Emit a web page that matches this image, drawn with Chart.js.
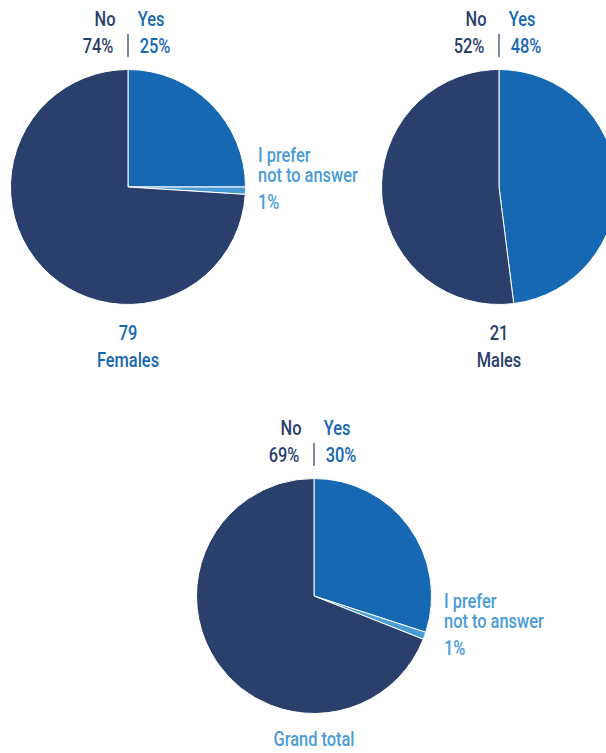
<!DOCTYPE html>
<html>
<head>
<meta charset="utf-8">
<script src="https://cdn.jsdelivr.net/npm/chart.js@4.4.0/dist/chart.umd.min.js"></script>
<style>
  html, body { margin: 0; padding: 0; background: #fff; }
  body { width: 606px; height: 753px; position: relative; overflow: hidden;
         font-family: "Roboto", sans-serif; font-weight: 500; font-size: 20px; }
  canvas { position: absolute; }
  .lbl { position: absolute; white-space: nowrap; line-height: 1;
         transform: scaleX(0.82); transform-origin: left center; }
  .c { transform: translateX(-50%) scaleX(0.82); transform-origin: center center; }
  .sep { position: absolute; width: 2px; height: 23px; background: #7d88a8; }
</style>
</head>
<body>
<script>
// survey answers per group, in percent
const groups = ['Females', 'Males', 'Grand total'];
const counts = ['79', '21', ''];
const yesPct = [25, 48, 30];
const preferPct = [1, 0, 1];
const noPct = [74, 52, 69];

const answerLabels = ['Yes', 'I prefer not to answer', 'No'];
const colors = { yes: '#1668b2', prefer: '#4a9cd7', no: '#2a3f6c' };

// pie centres, text colours and where the side note sits
const layout = [
  { cx: 128, cy: 187, titleColor: colors.yes, noteDy: -42 },
  { cx: 499, cy: 187, titleColor: colors.no, noteDy: -42 },
  { cx: 314, cy: 596, titleColor: colors.prefer, noteDy: -5 }
];
const SIZE = 236;

function addText(text, x, y, color, centered) {
  const el = document.createElement('div');
  el.className = 'lbl' + (centered ? ' c' : '');
  el.textContent = text;
  el.style.left = x + 'px';
  el.style.top = y + 'px';
  el.style.color = color;
  document.body.appendChild(el);
}

groups.forEach((name, i) => {
  const { cx, cy, titleColor, noteDy } = layout[i];
  const cv = document.createElement('canvas');
  cv.width = SIZE; cv.height = SIZE;
  cv.style.left = (cx - SIZE / 2) + 'px';
  cv.style.top = (cy - SIZE / 2) + 'px';
  document.body.appendChild(cv);

  new Chart(cv.getContext('2d'), {
    type: 'pie',
    data: {
      labels: answerLabels,
      datasets: [{
        data: [yesPct[i], preferPct[i], noPct[i]],
        backgroundColor: [colors.yes, colors.prefer, colors.no],
        borderColor: '#ffffff',
        borderWidth: 1
      }]
    },
    options: {
      responsive: false,
      animation: false,
      layout: { padding: 0 },
      plugins: { legend: { display: false }, tooltip: { enabled: false } }
    }
  });

  // header: No | Yes
  const top = cy - 178;
  addText('No', cx - 23, top, colors.no, true);
  addText('Yes', cx + 23, top, colors.yes, true);
  addText(noPct[i] + '%', cx - 30, top + 27, colors.no, true);
  addText(yesPct[i] + '%', cx + 27, top + 27, colors.yes, true);
  const sep = document.createElement('div');
  sep.className = 'sep';
  sep.style.left = (cx - 1) + 'px';
  sep.style.top = (top + 25) + 'px';
  document.body.appendChild(sep);

  // side note for the small slice
  if (preferPct[i] > 0) {
    addText('I prefer', cx + 130, cy + noteDy, colors.prefer, false);
    addText('not to answer', cx + 130, cy + noteDy + 20, colors.prefer, false);
    addText(preferPct[i] + '%', cx + 130, cy + noteDy + 47, colors.prefer, false);
  }

  // footer: count and group name
  if (counts[i]) {
    addText(counts[i], cx, cy + 136, titleColor, true);
    addText(name, cx, cy + 163, titleColor, true);
  } else {
    addText(name, cx, cy + 133, titleColor, true);
  }
});
</script>
</body>
</html>
